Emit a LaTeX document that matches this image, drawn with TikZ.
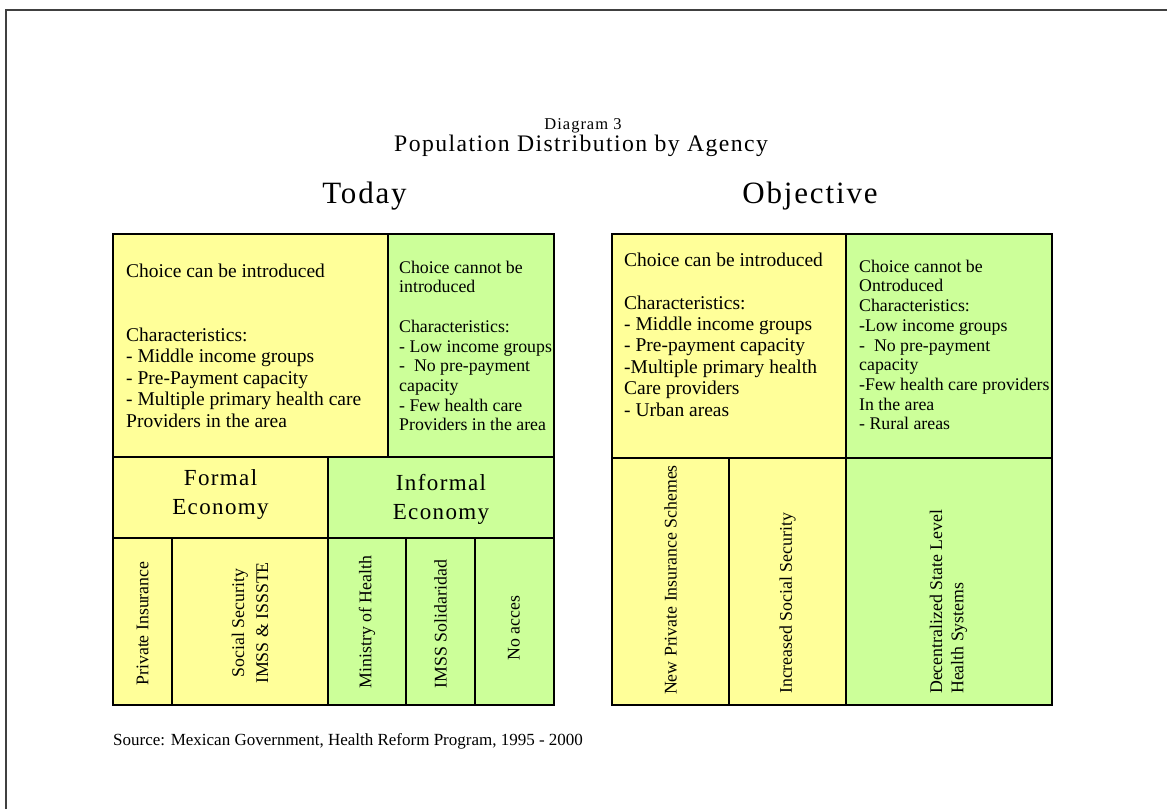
\documentclass[tikz,border=0pt]{standalone}
\usepackage{fontspec}
\setmainfont{Liberation Serif}
\newfontfamily\hdfont[LetterSpace=6]{Liberation Serif}
\definecolor{ylw}{HTML}{FFFF99}
\definecolor{grn}{HTML}{CCFF99}
\begin{document}
\begin{tikzpicture}[x=1pt,y=-1pt,
  cell/.style={draw=black,line width=1.4pt},
  bigtxt/.style={inner sep=0pt,anchor=north west,align=left,font=\fontsize{19.5}{21.4}\selectfont},
  smltxt/.style={inner sep=0pt,anchor=north west,align=left,font=\fontsize{17.8}{19.7}\selectfont},
  econ/.style={inner sep=0pt,anchor=north,align=center,font=\hdfont\fontsize{23}{29}\selectfont},
  vert/.style={inner sep=0pt,rotate=90,align=center,font=\fontsize{17.8}{21.3}\selectfont},
  head/.style={inner sep=0pt,anchor=base,font=\hdfont\fontsize{31}{36}\selectfont}
]
\useasboundingbox (0,0) rectangle (1167,809);
\draw[line width=1.5pt,color=black!75] (6,809) -- (6,10) -- (1167,10);

% titles
\node[inner sep=0pt,anchor=base,font=\hdfont\fontsize{16.5}{19}\selectfont] (diag) at (583,129) {Diagram 3};
\node[inner sep=0pt,anchor=base,font=\hdfont\fontsize{23.7}{28}\selectfont] (title) at (581,151) {Population Distribution by Agency};
\node[head] (today) at (364.5,203) {Today};
\node[head] (objective) at (810,203) {Objective};

% left diagram
\fill[ylw] (113,234) rectangle (388,457);
\fill[grn] (388,234) rectangle (554,457);
\fill[ylw] (113,457) rectangle (328,705);
\fill[grn] (328,457) rectangle (554,705);
\draw[cell] (113,234) rectangle (554,705);
\draw[cell] (388,234) -- (388,457);
\draw[cell] (113,457) -- (554,457);
\draw[cell] (113,538) -- (554,538);
\draw[cell] (328,457) -- (328,705);
\draw[cell] (172,538) -- (172,705);
\draw[cell] (406,538) -- (406,705);
\draw[cell] (475,538) -- (475,705);

\node[bigtxt] (tl) at (126,263.5) {Choice can be introduced\\[42.8pt]Characteristics:\\- Middle income groups\\- Pre-Payment capacity\\- Multiple primary health care\\Providers in the area};
\node[smltxt] (tr) at (399,260.7) {Choice cannot be\\introduced\\[19.7pt]Characteristics:\\- Low income groups\\-\ \ No pre-payment\\capacity\\- Few health care\\Providers in the area};
\node[econ] (formal) at (220.5,469) {Formal\\Economy};
\node[econ] (informal) at (441,474) {Informal\\Economy};
\node[vert] (priv) at (142.5,623.5) {Private Insurance};
\node[vert,font=\fontsize{17.8}{24}\selectfont] (soc) at (250,623) {Social Security\\IMSS \& ISSSTE};
\node[vert] (min) at (367,622) {Ministry of Health};
\node[vert] (sol) at (440.5,624) {IMSS Solidaridad};
\node[vert] (noac) at (514,628) {No acces};

% right diagram
\fill[ylw] (612,234) rectangle (846,705);
\fill[grn] (846,234) rectangle (1052,705);
\draw[cell] (612,234) rectangle (1052,705);
\draw[cell] (846,234) -- (846,705);
\draw[cell] (612,458) -- (1052,458);
\draw[cell] (729,458) -- (729,705);

\node[bigtxt] (otl) at (624,252.5) {Choice can be introduced\\[21.4pt]Characteristics:\\- Middle income groups\\- Pre-payment capacity\\-Multiple primary health\\Care providers\\- Urban areas};
\node[smltxt] (otr) at (859,259.7) {Choice cannot be\\Ontroduced\\Characteristics:\\-Low income groups\\-\ \ No pre-payment\\capacity\\-Few health care providers\\In the area\\- Rural areas};
\node[vert] (newp) at (670.5,580) {New Private Insurance Schemes};
\node[vert,anchor=west] (incs) at (787.5,694) {Increased Social Security};
\node[vert,anchor=west,align=left] (dec) at (948.5,694) {Decentralized State Level\\Health Systems};

% source
\node[inner sep=0pt,anchor=base west,font=\fontsize{17}{20}\selectfont] (src) at (113,745) {Source: Mexican Government, Health Reform Program, 1995 - 2000};
\end{tikzpicture}
\end{document}
